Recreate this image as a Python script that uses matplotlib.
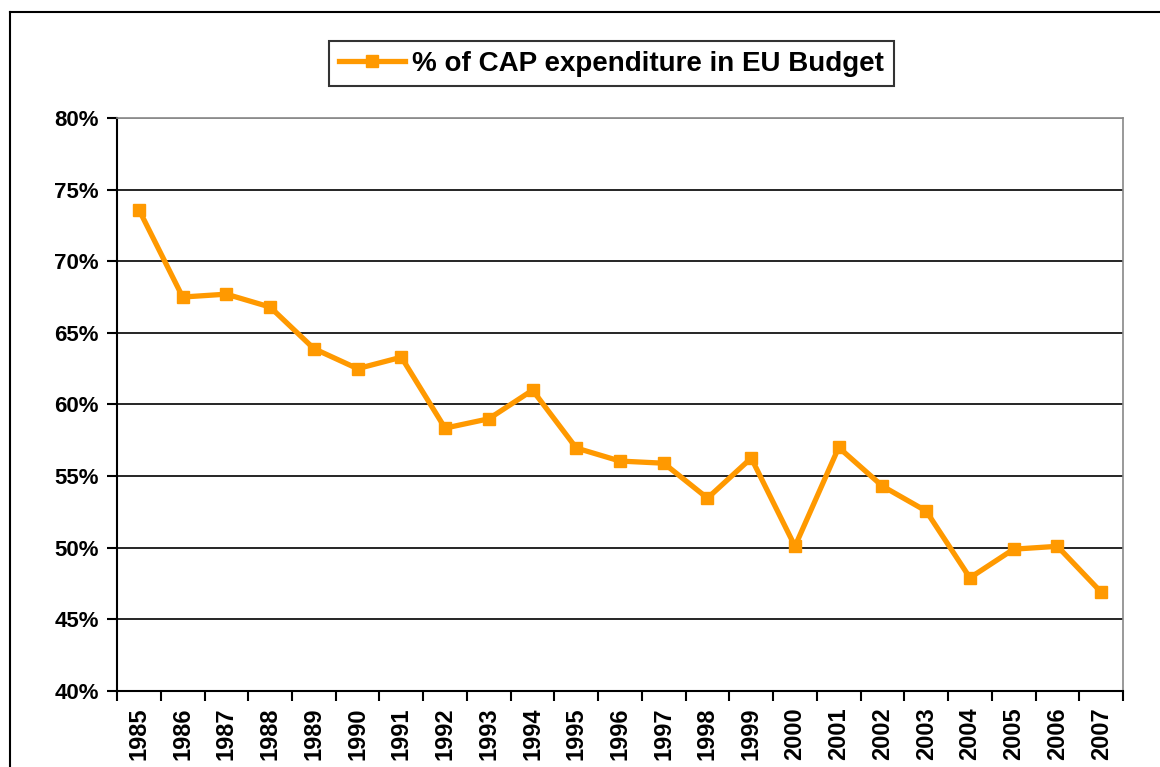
import matplotlib.pyplot as plt
from matplotlib.lines import Line2D
import numpy as np

years = [str(y) for y in range(1985, 2008)]
cap_share = [73.6, 67.5, 67.7, 66.8, 63.9, 62.5, 63.3, 58.35, 59.0, 61.0, 56.96, 56.05,
             55.9, 53.46, 56.26, 50.1, 57.0, 54.3, 52.56, 47.9, 49.9, 50.1, 46.9]
y_ticks = [40, 45, 50, 55, 60, 65, 70, 75, 80]

plt.rcParams['font.family'] = ['Liberation Sans', 'DejaVu Sans']
plt.rcParams['font.weight'] = 'bold'

fig = plt.figure(figsize=(11.6, 7.67), dpi=100)
ax = fig.add_axes([0.1009, 0.0991, 0.8672, 0.7471])

x = np.arange(len(years))
orange = '#FF9900'
ax.plot(x, cap_share, color=orange, linewidth=3.8, marker='s', markersize=8.5,
        label='% of CAP expenditure in EU Budget', zorder=3)

ax.set_xlim(-0.5, len(years) - 0.5)
ax.set_ylim(40, 80)
ax.set_yticks(y_ticks)
ax.set_yticklabels([f'{v}%' for v in y_ticks], fontsize=16, fontweight='bold')
ax.set_xticks(x)
ax.set_xticklabels(years, rotation=90, fontsize=17, fontweight='bold')
ax.set_xticks(np.arange(-0.5, len(years), 1), minor=True)
ax.tick_params(axis='x', which='major', length=0, pad=12)
ax.tick_params(axis='x', which='minor', length=7, width=1.5, direction='out', color='black')
ax.tick_params(axis='y', length=7, width=1.5, direction='out', pad=6)

for yv in y_ticks[1:-1]:
    ax.axhline(yv, color='black', linewidth=1.2, zorder=1)
ax.axhline(80, color='#888888', linewidth=1.2, zorder=1)

ax.spines['left'].set_linewidth(1.5)
ax.spines['bottom'].set_linewidth(1.5)
ax.spines['top'].set_color('#888888')
ax.spines['right'].set_color('#888888')
ax.spines['top'].set_linewidth(1.2)
ax.spines['right'].set_linewidth(1.2)

leg = fig.legend(loc='center', bbox_to_anchor=(0.527, 0.917), frameon=True,
                 fancybox=False, edgecolor='black', handlelength=2.4, handletextpad=0.25,
                 borderpad=0.35, prop={'weight': 'bold', 'size': 20})
leg.get_frame().set_linewidth(1.5)

# outer chart border (left and top edges visible)
fig.add_artist(Line2D([10 / 1160, 10 / 1160], [0, 1 - 12 / 767], color='black', linewidth=1.5,
                      transform=fig.transFigure))
fig.add_artist(Line2D([10 / 1160, 1], [1 - 12 / 767, 1 - 12 / 767], color='black', linewidth=1.5,
                      transform=fig.transFigure))

fig.savefig('out.png', dpi=100)
